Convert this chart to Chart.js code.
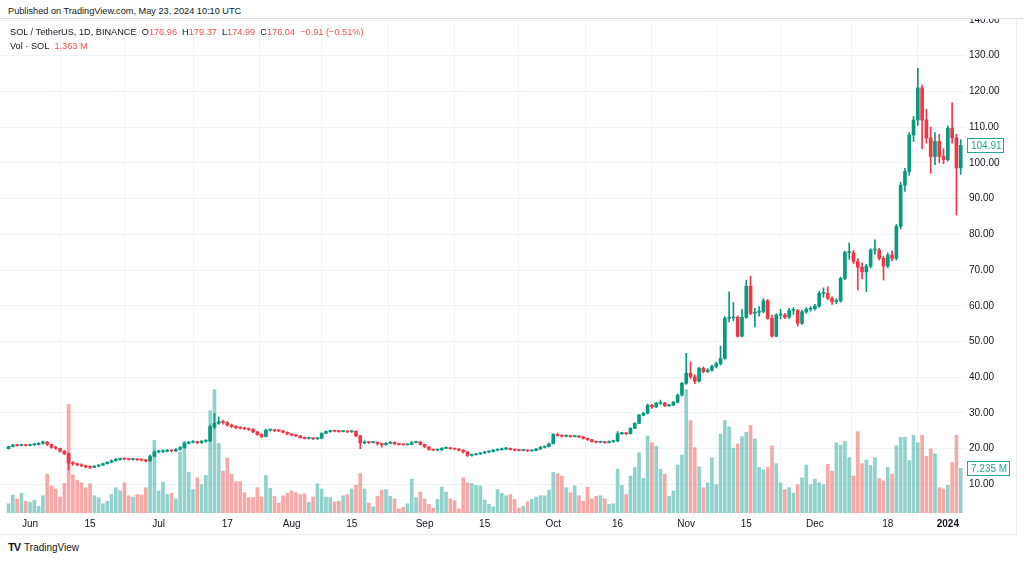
<!DOCTYPE html>
<html>
<head>
<meta charset="utf-8">
<script src="https://cdn.jsdelivr.net/npm/chart.js@4.4.0/dist/chart.umd.min.js"></script>
<style>
  body { margin: 0; background: #fff; font-family: "Liberation Sans", Arial, sans-serif; }
  #wrap { position: relative; width: 1024px; height: 561px; overflow: hidden; background: #fff; }
  #chart { position: absolute; left: 0; top: 0; }
  #pub { position: absolute; left: 0; top: 0; width: 1024px; height: 19px; background: #fff;
         border-bottom: 1px solid #e0e3eb; z-index: 2; font-size: 9.2px; color: #131722;
         line-height: 22px; padding-left: 8px; box-sizing: border-box; }
  .leg { position: absolute; left: 10px; font-size: 9.2px; color: #131722; line-height: 14px; z-index: 2; }
  .leg .r { color: #ef5350; }
  #frame { position: absolute; left: -1px; top: 19px; width: 1017px; height: 515px;
           border-right: 1px solid #e9ecf2; border-bottom: 1px solid #e9ecf2; }
  #logo { position: absolute; left: 8px; top: 541px; font-size: 10px; color: #131722; }
  #logo b { font-size: 11px; letter-spacing: -1px; margin-right: 4px; }
</style>
</head>
<body>
<div id="wrap">
  <canvas id="chart" width="1024" height="536"></canvas>
  <div id="frame"></div>
  <div id="pub">Published on TradingView.com, May 23, 2024 10:10 UTC</div>
  <div class="leg" style="top:25px">SOL / TetherUS, 1D, BINANCE&nbsp;&nbsp;O<span class="r">176.96</span>&nbsp;&nbsp;H<span class="r">179.37</span>&nbsp;&nbsp;L<span class="r">174.99</span>&nbsp;&nbsp;C<span class="r">176.04</span>&nbsp;&nbsp;<span class="r">−0.91 (−0.51%)</span></div>
  <div class="leg" style="top:39px">Vol · SOL&nbsp;&nbsp;<span class="r">1.363 M</span></div>
  <div id="logo"><b>TV</b>TradingView</div>
</div>
<script>
// Daily candles, May 27 2023 (index 0) to Jan 4 2024 (index 222)
const opens = [
  20.0,20.6,21.0,20.9,21.1,20.9,21.1,21.2,21.5,21.9,
  21.2,20.4,20.1,19.3,18.6,16.0,15.8,15.5,15.2,14.9,
  14.8,15.1,15.4,15.8,16.2,16.6,17.0,17.2,17.1,17.0,
  17.1,16.9,16.8,16.6,17.9,19.1,19.2,19.3,19.5,19.4,
  19.8,20.3,21.5,21.8,22.0,21.7,22.1,22.2,26.1,27.1,
  27.6,27.3,26.6,26.2,25.9,25.8,25.6,25.4,24.7,24.0,
  23.4,25.2,25.2,25.1,25.0,24.6,24.1,23.8,23.6,23.1,
  22.9,22.9,22.8,22.9,24.3,24.8,25.0,24.9,24.8,24.9,
  24.7,24.9,23.6,21.6,21.9,21.7,21.8,21.4,21.1,21.5,
  21.8,21.3,21.2,21.1,21.2,21.7,21.9,21.2,20.5,19.8,
  19.6,19.7,20.1,20.2,20.0,19.9,19.6,19.1,18.1,18.3,
  18.5,18.8,19.1,19.2,19.6,19.7,19.9,20.1,19.8,19.6,
  19.5,19.6,19.4,19.5,19.9,20.4,20.6,21.4,24.0,23.7,
  23.5,23.6,23.4,23.5,23.3,22.9,22.5,22.0,21.8,21.9,
  21.7,22.0,22.2,24.2,24.3,24.2,25.7,27.1,29.4,29.9,
  32.2,31.7,32.7,32.8,32.0,32.2,33.0,35.0,38.3,41.1,
  40.1,38.9,42.5,41.6,42.0,43.0,43.8,45.3,56.5,56.6,
  56.8,51.5,56.8,65.5,57.9,58.2,58.4,61.4,56.5,51.5,
  57.4,57.4,56.8,58.7,58.7,55.1,58.3,59.0,59.2,59.9,
  63.5,63.5,62.1,61.2,61.4,67.7,74.9,74.9,72.4,70.8,
  69.5,71.1,75.6,75.6,73.3,71.1,74.2,73.3,82.2,93.8,
  97.6,107.8,112.0,121.0,112.0,107.0,101.8,106.0,101.8,100.9,
  109.7,107.0,98.6
];
const highs = [
  20.7,21.2,21.2,21.3,21.2,21.3,21.4,21.7,22.1,22.0,
  21.3,20.7,20.2,19.5,18.8,16.4,16.0,15.8,15.4,15.2,
  15.3,15.6,16.0,16.4,16.9,17.3,17.4,17.4,17.3,17.3,
  17.2,17.1,17.0,18.2,19.4,19.6,19.7,19.8,19.7,20.0,
  20.6,21.8,22.1,22.3,22.1,22.3,22.5,26.6,29.8,28.9,
  28.0,27.6,26.9,26.5,26.1,26.0,25.8,25.6,24.9,24.2,
  25.4,25.5,25.4,25.3,25.1,24.7,24.3,24.0,23.7,23.3,
  23.1,23.0,23.1,24.5,25.0,25.2,25.1,25.0,25.1,25.0,
  25.2,25.0,23.8,22.2,22.0,22.0,21.9,21.6,21.7,22.0,
  21.9,21.4,21.3,21.3,22.0,22.1,22.0,21.3,20.6,19.9,
  19.9,20.3,20.5,20.3,20.1,20.0,19.7,19.2,18.5,18.7,
  19.0,19.3,19.4,19.8,19.9,20.2,20.4,20.2,19.9,19.7,
  19.7,19.7,19.6,20.0,20.6,20.8,21.6,24.2,24.4,23.9,
  23.8,23.7,23.7,23.6,23.4,23.0,22.6,22.1,22.1,22.0,
  22.2,22.4,24.8,24.6,24.5,25.9,27.3,29.6,30.2,32.5,
  32.4,33.0,33.6,33.0,32.5,33.3,35.3,38.6,46.7,44.3,
  40.7,42.8,42.9,42.4,43.4,44.3,48.7,57.0,63.9,60.9,
  57.2,59.0,67.2,68.3,59.3,59.8,62.0,61.8,57.4,57.8,
  59.0,57.9,59.3,59.5,59.0,58.8,59.5,59.8,60.4,64.0,
  65.0,65.3,62.5,62.0,68.0,75.3,77.6,75.5,73.2,72.0,
  71.6,76.0,78.5,76.1,73.9,74.8,75.4,82.8,94.6,98.5,
  108.5,113.0,126.5,121.8,115.0,110.0,108.5,108.0,104.0,110.3,
  116.8,108.0,106.5
];
const lows = [
  19.9,20.5,20.7,20.8,20.7,20.8,20.9,21.0,21.3,20.9,
  20.1,19.8,19.0,18.3,14.0,15.3,15.2,15.0,14.7,14.4,
  14.7,15.0,15.3,15.7,16.1,16.5,16.8,16.9,16.8,16.8,
  16.7,16.6,16.3,16.5,17.7,18.8,18.9,19.1,19.1,19.2,
  19.6,20.1,21.3,21.6,21.4,21.5,21.8,22.0,25.6,26.8,
  26.9,26.3,25.9,25.6,25.5,25.3,25.1,24.5,23.7,23.1,
  23.3,24.9,24.8,24.8,24.4,23.9,23.6,23.4,22.9,22.7,
  22.7,22.5,22.6,22.8,24.2,24.6,24.7,24.6,24.7,24.5,
  24.6,23.4,20.0,21.4,21.5,21.6,21.0,20.4,21.0,21.4,
  21.2,21.0,21.0,21.0,21.1,21.6,21.0,20.3,19.6,19.5,
  19.5,19.5,20.0,19.8,19.7,19.4,18.8,17.8,17.9,18.2,
  18.4,18.7,18.9,19.1,19.4,19.6,19.8,19.6,19.4,19.4,
  19.4,19.2,19.3,19.4,19.8,20.2,20.5,21.3,23.5,23.2,
  23.3,23.2,23.3,23.1,22.7,22.3,21.8,21.6,21.7,21.5,
  21.6,21.8,21.9,24.0,23.9,24.1,25.6,27.0,29.2,29.7,
  31.3,31.5,32.3,31.8,31.8,32.0,32.8,34.8,38.0,39.6,
  38.2,38.6,41.2,41.3,41.7,42.6,43.4,45.0,55.5,55.8,
  51.2,51.3,56.5,57.5,54.1,57.1,58.0,56.2,51.2,51.3,
  56.3,56.4,56.5,57.6,54.3,54.8,57.9,58.5,58.8,59.6,
  62.4,61.7,60.4,60.6,61.0,67.3,73.0,71.8,64.4,67.5,
  64.0,70.6,74.4,72.8,67.2,70.6,72.6,72.8,81.5,92.0,
  96.5,106.0,110.5,104.0,105.5,97.1,99.5,100.0,99.8,100.5,
  105.5,85.4,96.8
];
const closes = [
  20.6,21.0,20.9,21.1,20.9,21.1,21.2,21.5,21.9,21.2,
  20.4,20.1,19.3,18.6,16.0,15.8,15.5,15.2,14.9,14.8,
  15.1,15.4,15.8,16.2,16.6,17.0,17.2,17.1,17.0,17.1,
  16.9,16.8,16.6,17.9,19.1,19.2,19.3,19.5,19.4,19.8,
  20.3,21.5,21.8,22.0,21.7,22.1,22.2,26.1,27.1,27.6,
  27.3,26.6,26.2,25.9,25.8,25.6,25.4,24.7,24.0,23.4,
  25.2,25.2,25.1,25.0,24.6,24.1,23.8,23.6,23.1,22.9,
  22.9,22.8,22.9,24.3,24.8,25.0,24.9,24.8,24.9,24.7,
  24.9,23.6,21.6,21.9,21.7,21.8,21.4,21.1,21.5,21.8,
  21.3,21.2,21.1,21.2,21.7,21.9,21.2,20.5,19.8,19.6,
  19.7,20.1,20.2,20.0,19.9,19.6,19.1,18.1,18.3,18.5,
  18.8,19.1,19.2,19.6,19.7,19.9,20.1,19.8,19.6,19.5,
  19.6,19.4,19.5,19.9,20.4,20.6,21.4,24.0,23.7,23.5,
  23.6,23.4,23.5,23.3,22.9,22.5,22.0,21.8,21.9,21.7,
  22.0,22.2,24.2,24.3,24.2,25.7,27.1,29.4,29.9,32.2,
  31.7,32.7,32.8,32.0,32.2,33.0,35.0,38.3,41.1,40.1,
  38.9,42.5,41.6,42.0,43.0,43.8,45.3,56.5,56.6,56.8,
  51.5,56.8,65.5,57.9,58.2,58.4,61.4,56.5,51.5,57.4,
  57.4,56.8,58.7,58.7,55.1,58.3,59.0,59.2,59.9,63.5,
  63.5,62.1,61.2,61.4,67.7,74.9,74.9,72.4,70.8,69.5,
  71.1,75.6,75.6,73.3,71.1,74.2,73.3,82.2,93.8,97.6,
  107.8,112.0,121.0,112.0,107.0,101.8,106.0,101.8,100.9,109.7,
  107.0,98.6,104.91
];
// volume in millions of SOL
const volumes = [
  1.5,2.9,2.3,3.2,1.9,1.75,2.1,1.1,2.8,6.3,
  4.4,3.9,2.6,4.8,17.6,6.2,5.3,4.9,4.1,4.75,
  2.8,2.5,1.5,1.9,3.0,4.1,3.6,4.9,2.8,2.6,
  3.0,2.9,4.1,8.9,11.8,3.6,5.0,3.0,3.2,2.3,
  9.9,11.6,6.6,3.8,5.7,4.6,6.1,16.6,20.0,11.3,
  6.8,8.9,6.3,5.1,5.1,3.3,2.5,2.5,4.1,2.6,
  6.1,4.0,2.7,1.6,2.8,3.2,3.6,3.3,3.0,3.1,
  1.75,2.6,4.75,3.9,2.6,2.5,1.8,1.9,2.8,3.0,
  3.9,4.5,6.4,3.9,1.6,1.0,2.7,3.7,3.8,2.7,
  2.3,0.66,0.9,1.5,5.5,2.5,3.4,2.3,1.4,0.8,
  2.2,4.2,3.4,2.3,2.0,0.66,5.7,4.9,4.8,4.5,
  4.4,2.1,1.4,1.0,3.8,3.2,2.8,3.0,2.2,0.8,
  1.1,1.8,2.2,2.6,2.8,2.8,3.7,6.6,6.4,6.0,
  4.1,3.3,4.4,2.8,1.9,4.2,2.3,2.7,2.8,2.3,
  1.4,1.5,7.1,4.5,3.0,6.0,7.4,9.8,5.6,12.5,
  11.4,10.8,7.1,6.3,2.7,3.6,7.8,9.4,20.0,15.0,
  10.6,7.5,4.1,4.9,9.0,4.6,12.8,15.0,14.0,10.5,
  11.2,12.4,13.1,14.2,12.0,7.4,7.0,7.4,10.9,8.0,
  4.9,3.8,4.1,3.2,4.6,5.7,7.8,4.6,5.5,4.9,
  4.6,7.9,6.8,11.4,11.0,11.6,9.0,6.0,13.2,8.0,
  8.6,7.7,9.0,5.6,5.2,7.4,6.3,10.9,12.3,12.3,
  8.5,12.6,11.4,12.6,9.2,10.4,9.6,4.1,3.9,4.5,
  8.2,12.6,7.235
];

const xTickIdx = [5, 19, 35, 51, 66, 80, 97, 111, 127, 142, 158, 172, 188, 205, 219];
const xTickText = ['Jun', '15', 'Jul', '17', 'Aug', '15', 'Sep', '15', 'Oct', '16', 'Nov', '15', 'Dec', '18', '2024'];
const priceTicks = [10, 20, 30, 40, 50, 60, 70, 80, 90, 100, 110, 120, 130, 140];

const UP = '#089981';
const DOWN = '#f23645';
const UP_VOL = 'rgba(38, 166, 154, 0.5)';
const DOWN_VOL = 'rgba(239, 83, 80, 0.5)';
const FONT = '"Liberation Sans", Arial, sans-serif';

const N = closes.length;
const up = closes.map((c, i) => c >= opens[i]);

// Last price / last volume tags on the right scale
const lastTags = {
  id: 'lastTags',
  afterDraw(chart) {
    const { ctx, chartArea, scales } = chart;
    const tag = (y, text, w) => {
      const x = chartArea.right + 2;
      const top = Math.round(y - 7) + 0.5;
      ctx.save();
      ctx.fillStyle = '#fff';
      ctx.fillRect(x, top, w, 14);
      ctx.strokeStyle = '#26a69a';
      ctx.lineWidth = 1;
      ctx.strokeRect(x + 0.5, top, w, 14);
      ctx.fillStyle = '#26a69a';
      ctx.font = '10px ' + FONT;
      ctx.textBaseline = 'middle';
      ctx.fillText(text, x + 4, top + 7.5);
      ctx.restore();
    };
    tag(scales.y.getPixelForValue(closes[N - 1]), closes[N - 1].toFixed(2), 36);
    tag(scales.yv.getPixelForValue(volumes[N - 1]), volumes[N - 1].toFixed(3) + ' M', 42);
  }
};

new Chart(document.getElementById('chart'), {
  type: 'bar',
  data: {
    datasets: [{
      label: 'body',
      data: closes.map((c, i) => ({ x: i, y: [opens[i], c] })),
      backgroundColor: up.map(u => u ? UP : DOWN),
      barThickness: 3,
      minBarLength: 1,
      grouped: false,
      yAxisID: 'y',
      order: 0
    }, {
      label: 'wick',
      data: closes.map((c, i) => ({ x: i, y: [lows[i], highs[i]] })),
      backgroundColor: up.map(u => u ? UP : DOWN),
      barThickness: 1,
      grouped: false,
      yAxisID: 'y',
      order: 1
    }, {
      label: 'volume',
      data: volumes.map((v, i) => ({ x: i, y: v })),
      backgroundColor: up.map(u => u ? UP_VOL : DOWN_VOL),
      barThickness: 3,
      grouped: false,
      yAxisID: 'yv',
      order: 2
    }]
  },
  options: {
    responsive: false,
    animation: false,
    events: [],
    layout: { padding: { top: 20, left: 0, right: 0, bottom: 0 } },
    plugins: {
      legend: { display: false },
      tooltip: { enabled: false }
    },
    scales: {
      x: {
        type: 'linear',
        min: -2,
        max: 223,
        offset: false,
        afterBuildTicks: s => { s.ticks = xTickIdx.map(v => ({ value: v })); },
        afterFit: s => { s.height = 23; },
        ticks: {
          autoSkip: false,
          maxRotation: 0,
          padding: 5,
          color: '#131722',
          font: ctx => ({ family: FONT, size: 10, weight: ctx.index === xTickIdx.length - 1 ? 'bold' : 'normal' }),
          callback: v => xTickText[xTickIdx.indexOf(v)]
        },
        grid: { color: '#f0f3fa', drawTicks: false },
        border: { display: false }
      },
      y: {
        position: 'right',
        min: 2,
        max: 140,
        afterBuildTicks: s => { s.ticks = priceTicks.map(v => ({ value: v })); },
        afterFit: s => { s.width = 59; },
        ticks: {
          padding: 4,
          color: '#131722',
          font: { family: FONT, size: 10 },
          callback: v => v.toFixed(2)
        },
        grid: { color: '#f0f3fa', drawTicks: false },
        border: { display: false }
      },
      yv: {
        display: false,
        min: 0,
        max: 80
      }
    }
  },
  plugins: [lastTags]
});
</script>
</body>
</html>
